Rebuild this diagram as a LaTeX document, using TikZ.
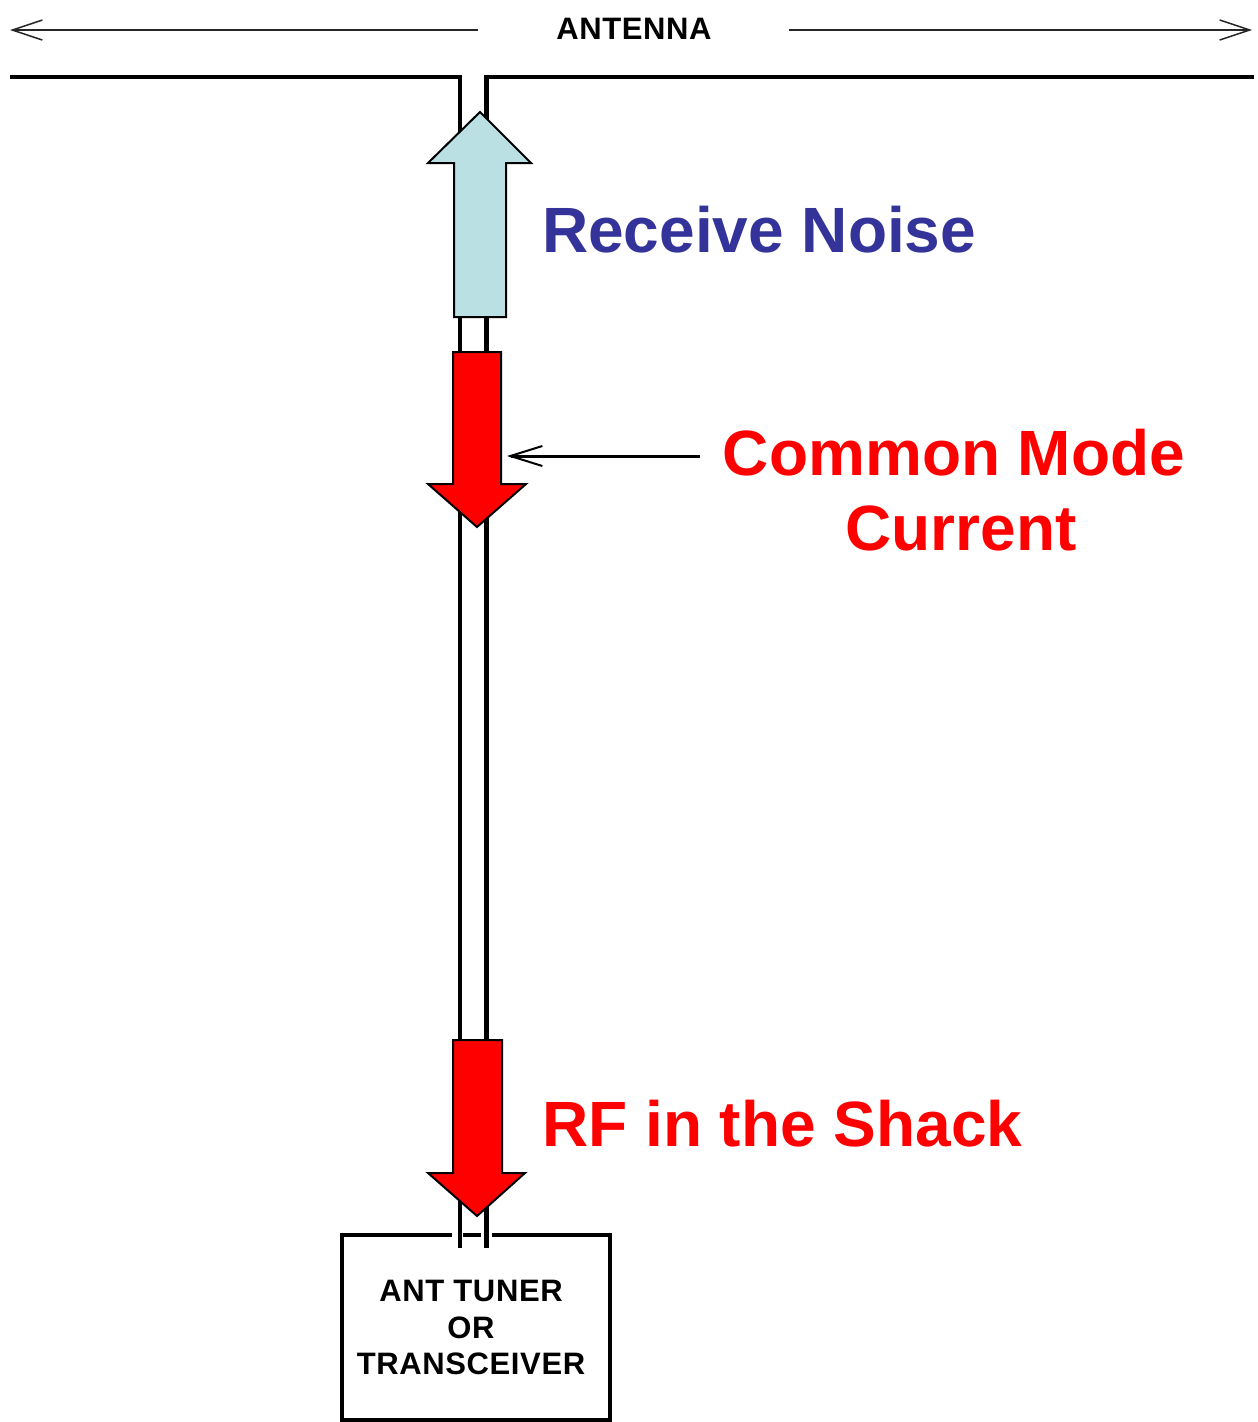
\documentclass[tikz,border=0pt]{standalone}
\usepackage{fontspec}
\setmainfont{Liberation Sans}
\usetikzlibrary{arrows.meta}
\definecolor{noiseblue}{HTML}{333399}
\definecolor{pale}{HTML}{BBE0E3}
\definecolor{rfred}{HTML}{FF0000}
\tikzset{
  dimline/.style={line width=2pt, draw=black!85, -{Straight Barb[length=30pt,width=20pt,line width=1.5pt]}},
  wire/.style={line width=4pt, line cap=butt},
  bigarrow/.style={draw=black, line width=2pt, line join=miter},
  biglabel/.style={font=\fontsize{64}{75}\selectfont\bfseries, inner sep=0pt},
  smalllabel/.style={font=\fontsize{31}{36.5}\selectfont\bfseries\addfontfeature{LetterSpace=2}, inner sep=0pt, align=center},
}
\begin{document}
\begin{tikzpicture}[x=1pt,y=-1pt]
\useasboundingbox (0,0) rectangle (1258,1422);
\fill[white] (0,0) rectangle (1258,1422);
% antenna label and dimension arrows
\node[font=\fontsize{31}{36}\selectfont\bfseries\addfontfeature{LetterSpace=2}, inner sep=0pt] (ant) at (634,29) {ANTENNA};
\coordinate (dl) at (478,30);
\coordinate (dlend) at (10,30);
\coordinate (dr) at (789,30);
\coordinate (drend) at (1252,30);
\draw[dimline] (dl) -- (dlend);
\draw[dimline] (dr) -- (drend);
% antenna wires and feed line
\draw[wire, line join=miter] (10,77) -- (460,77) -- (460,1248);
\draw[wire] (1254,77) -- (484,77);
\draw[line width=5pt] (486,75) -- (486,1248);
% box
\draw[line width=4pt, line cap=butt] (452,1235) -- (342,1235) -- (342,1420) -- (610,1420) -- (610,1235) -- (492,1235);
\draw[line width=4pt, line cap=butt] (463,1235) -- (481,1235);
\node[smalllabel] (box) at (471,1327.5) {ANT TUNER\\OR\\TRANSCEIVER};
% receive noise arrow
\filldraw[bigarrow, fill=pale] (480,112) -- (531,163) -- (506,163) -- (506,317) -- (454,317) -- (454,163) -- (428,163) -- cycle;
% common mode arrow
\filldraw[bigarrow, fill=rfred] (453,352) -- (501,352) -- (501,484) -- (526,484) -- (477,527) -- (428,484) -- (453,484) -- cycle;
% rf arrow
\filldraw[bigarrow, fill=rfred] (453,1040) -- (502,1040) -- (502,1173) -- (525,1173) -- (477,1216) -- (428,1173) -- (453,1173) -- cycle;
% pointer
\coordinate (pstart) at (700,456);
\coordinate (ptip) at (507,456);
\draw[line width=3pt, -{Straight Barb[length=32pt,width=20pt,line width=2pt]}] (pstart) -- (ptip);
% labels
\node[biglabel, text=noiseblue, anchor=base west] (rn) at (542,252) {Receive Noise};
\node[biglabel, text=rfred, align=center] (cm) at (954,490.5) {Common Mode\\\hspace*{14pt}Current};
\node[biglabel, text=rfred, anchor=base west] (rf) at (542,1146) {RF in the Shack};
\end{tikzpicture}
\end{document}
